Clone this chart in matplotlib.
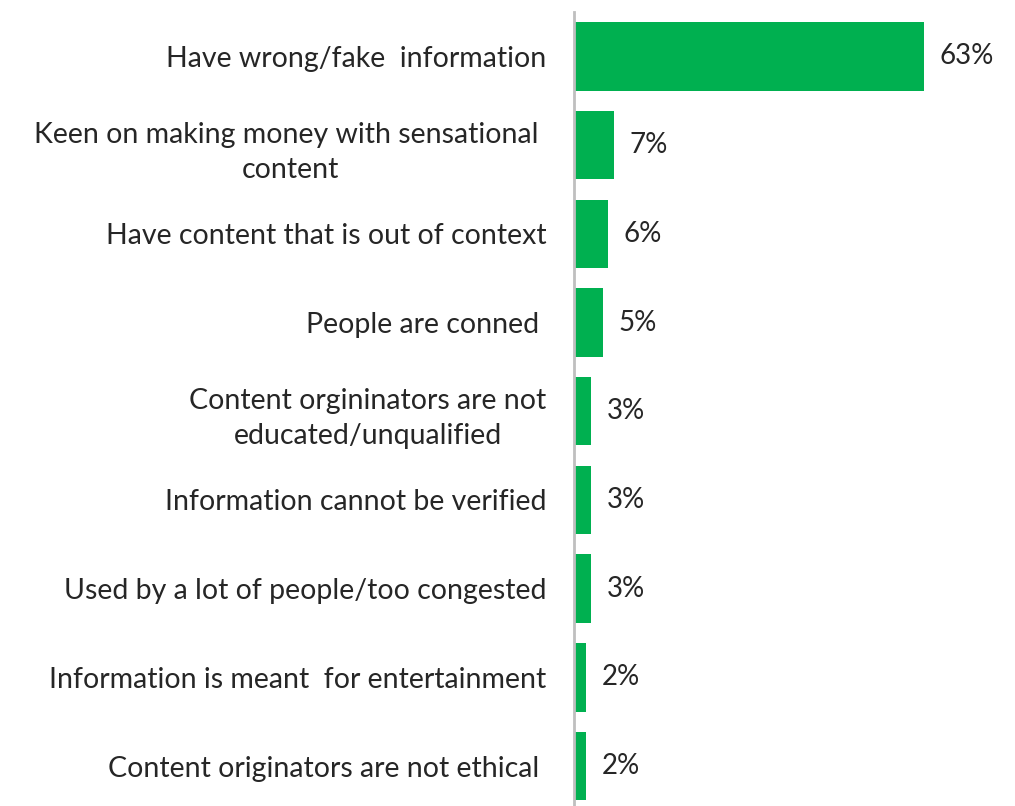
import numpy as np
import matplotlib.pyplot as plt

plt.rcParams['font.family'] = ['Lato', 'DejaVu Sans']

labels = [
    'Have wrong/fake  information',
    'Keen on making money with sensational \ncontent',
    'Have content that is out of context',
    'People are conned ',
    'Content orgininators are not\neducated/unqualified',
    'Information cannot be verified',
    'Used by a lot of people/too congested',
    'Information is meant  for entertainment',
    'Content originators are not ethical ',
]
values = [63, 7, 6, 5, 3, 3, 3, 2, 2]

green = '#00B050'
text_col = '#262626'

fig = plt.figure(figsize=(10.15, 8.06), dpi=100)
ax = fig.add_axes([574 / 1015, 0, 399 / 1015, 794 / 806])

y = np.arange(len(values))
ax.barh(y, values, height=0.77, color=green, left=0.15)

for yi, v in zip(y, values):
    ax.annotate(f'{v}%', xy=(v, yi), xytext=(12, 0), textcoords='offset points',
                va='center', ha='left', fontsize=20, color=text_col)

ax.set_xlim(0, 72)
ax.set_ylim(len(values) - 0.55, -0.5)
ax.set_yticks(y)
ax.set_yticklabels(labels, fontsize=20.5, color=text_col, linespacing=1.45)
for t in ax.get_yticklabels():
    t.set_multialignment('center')
ax.tick_params(axis='y', length=0, pad=20)
ax.set_xticks([])

for side in ['top', 'right', 'bottom']:
    ax.spines[side].set_visible(False)
ax.spines['left'].set_color('#BFBFBF')
ax.spines['left'].set_linewidth(2)

fig.savefig('out.png', dpi=100)
